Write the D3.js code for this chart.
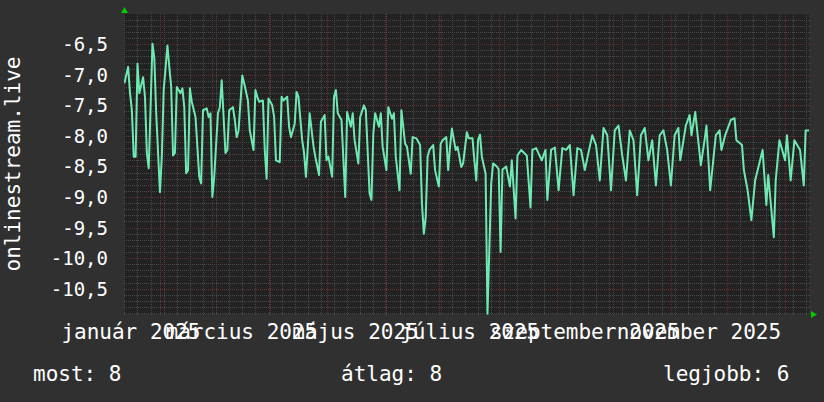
<!DOCTYPE html>
<html>
<head>
<meta charset="utf-8">
<script src="https://cdn.jsdelivr.net/npm/d3@7"></script>
<style>
body { margin: 0; background: #303030; }
</style>
</head>
<body>
<svg width="824" height="402"></svg>
<script>
// adatok: napi érték, a kezdőnaptól számolt napokkal
var startDay = Date.UTC(2025, 0, 13);
var dayOffsets = [
    0,2,3,4,5,6,7,8,10,11,12,13,15,16,17,19,20,21,23,24,25,26,27,28,30,31,32,33,34,35,
    36,38,40,41,42,44,45,46,47,48,50,51,52,54,55,56,58,59,60,61,63,64,66,67,69,70,71,72,74,75,
    76,77,79,80,81,83,84,85,87,88,89,91,92,93,95,96,97,98,99,101,102,104,105,107,108,109,111,112,113,114,
    116,118,119,121,122,123,125,126,128,129,131,132,133,134,136,137,138,140,141,143,144,145,147,148,150,151,153,154,156,158,
    159,160,161,162,163,165,166,168,169,170,172,173,174,175,177,178,180,181,183,184,186,187,188,189,190,191,193,194,196,197,
    199,200,201,202,204,206,207,209,210,212,215,217,218,220,223,225,226,228,230,232,234,236,238,240,242,244,246,248,250,252,
    254,256,258,260,262,264,266,268,270,272,274,276,278,280,282,284,286,288,290,292,294,296,297,300,302,303,305,308,310,311,
    313,316,318,319,321,324,326,327,330,331,333,335,337,339,341,343,344,347,348,350,353,354,356,358,361,363,364,366
];
var values = [
    -7.14,-6.87,-7.30,-7.58,-8.34,-8.34,-6.82,-7.30,-7.04,-7.36,-8.28,-8.53,-6.49,-6.73,-7.63,-8.92,-8.34,-7.25,-6.52,-6.87,-7.20,-8.32,-8.28,-7.20,-7.30,-7.22,-7.53,-8.61,-8.56,-7.22,
    -7.44,-7.69,-8.67,-8.78,-7.58,-7.55,-7.69,-7.63,-9.00,-8.67,-7.63,-7.53,-7.09,-8.28,-8.23,-7.58,-7.53,-7.74,-8.02,-7.91,-7.01,-7.14,-7.42,-7.91,-8.23,-7.25,-7.36,-7.44,-7.42,-8.23,
    -8.70,-7.39,-7.50,-7.69,-8.40,-8.43,-7.36,-7.42,-7.36,-7.85,-8.02,-7.80,-7.28,-7.36,-8.07,-8.28,-8.67,-8.18,-7.63,-8.16,-8.34,-8.64,-7.77,-7.66,-8.40,-8.34,-8.67,-7.36,-7.25,-7.63,
    -7.74,-9.00,-7.61,-7.85,-7.63,-8.07,-8.45,-7.69,-7.50,-7.58,-8.94,-9.05,-7.96,-7.63,-7.85,-7.63,-8.18,-8.56,-7.53,-7.72,-7.63,-8.34,-8.89,-7.58,-8.13,-8.18,-8.62,-8.02,-8.04,-8.15,
    -9.11,-9.60,-9.33,-8.34,-8.23,-8.15,-8.56,-8.83,-8.13,-8.07,-8.02,-8.56,-8.18,-7.88,-8.23,-8.18,-8.51,-8.45,-7.94,-8.04,-8.04,-8.40,-8.73,-8.06,-7.98,-8.34,-8.62,-10.91,-8.78,-8.45,
    -8.50,-8.55,-9.90,-8.55,-8.50,-8.83,-8.40,-9.35,-8.32,-8.23,-8.32,-9.17,-8.23,-8.20,-8.40,-8.23,-9.05,-8.23,-8.19,-8.89,-8.20,-8.23,-8.15,-8.97,-8.20,-8.23,-8.56,-8.27,-7.99,-8.15,
    -8.73,-7.87,-7.99,-8.89,-7.91,-7.83,-8.32,-8.73,-7.91,-8.07,-8.97,-7.99,-7.87,-8.40,-8.07,-8.81,-7.99,-7.91,-8.23,-8.81,-7.99,-7.87,-8.40,-7.83,-7.66,-7.99,-7.61,-8.48,-8.07,-7.83,
    -8.89,-7.99,-7.91,-8.23,-7.99,-7.74,-7.71,-8.07,-8.15,-8.56,-8.89,-9.38,-8.73,-8.48,-8.23,-9.13,-8.64,-9.66,-8.73,-8.07,-8.40,-7.99,-8.73,-8.07,-8.23,-8.81,-7.91,-7.91
];

// tengelyek
var yMajorTicks = [-6.5,-7.0,-7.5,-8.0,-8.5,-9.0,-9.5,-10.0,-10.5];
var monthNames = ["január","február","március","április","május","június",
    "július","augusztus","szeptember","október","november","december"];
var yTitle = "onlinestream.live";

// jelmagyarázat
var legendLabels = ["most", "átlag", "legjobb"];
var legendValues = [8, 8, 6];

var COLOR_BG = "#303030";
var COLOR_CANVAS = "#222222";
var COLOR_LINE = "#6fe9b2";
var COLOR_MINOR = "#484848";
var COLOR_MAJOR = "#663030";
var COLOR_ARROW = "#00cc00";
var FONT = "'DejaVu Sans Mono', monospace";

var svg = d3.select("svg").style("font-family", FONT);
var plotL = 124, plotR = 809, plotT = 14, plotB = 314;

var x = d3.scaleUtc()
    .domain([Date.UTC(2025, 0, 12, 19), Date.UTC(2026, 0, 13, 19)])
    .range([plotL, plotR]);
var y = d3.scaleLinear()
    .domain([-10.915, -6.005])
    .range([plotB, plotT]);

var hu = d3.formatLocale({decimal: ",", thousands: " ", grouping: [3], currency: ["", " Ft"], minus: "-"});
var fmt = hu.format(".1f");

svg.append("rect").attr("width", 824).attr("height", 402).attr("fill", COLOR_BG);
svg.append("rect")
    .attr("x", plotL).attr("y", plotT)
    .attr("width", plotR - plotL).attr("height", plotB - plotT)
    .attr("fill", COLOR_CANVAS);

// rács (pontozott), egy path típusonként
function gridPath(hVals, vVals, color){
    var d = "";
    hVals.forEach(function(v){
        var py = Math.round(y(v)) + 0.5;
        d += "M" + plotL + "," + py + "H" + (plotR + 2);
    });
    vVals.forEach(function(t){
        var px = Math.round(x(t)) + 0.5;
        d += "M" + px + "," + plotT + "V" + (plotB + 2);
    });
    svg.append("path")
        .attr("d", d)
        .attr("fill", "none")
        .attr("stroke", color)
        .attr("stroke-width", 1)
        .attr("stroke-dasharray", "1,1");
}
var minorY = d3.range(-109, -60).map(function(i){ return i / 10; })
    .filter(function(d){ return Math.abs(d * 2 - Math.round(d * 2)) > 1e-6; });
var weeks = d3.utcMonday.range(x.domain()[0], x.domain()[1]);
var months = d3.utcMonth.range(x.domain()[0], x.domain()[1]);
var weeksOnly = weeks.filter(function(w){
    return !months.some(function(m){ return Math.abs(x(m) - x(w)) < 1; });
});
gridPath(minorY, weeksOnly, COLOR_MINOR);
gridPath(yMajorTicks, months, COLOR_MAJOR);

// vonal
svg.append("clipPath").attr("id", "clip").append("rect")
    .attr("x", plotL).attr("y", plotT).attr("width", plotR - plotL).attr("height", plotB - plotT + 1);

var points = dayOffsets.map(function(d, i){
    return {t: new Date(startDay + d * 864e5), v: values[i]};
});
var line = d3.line()
    .x(function(d){ return x(d.t); })
    .y(function(d){ return y(d.v); });
svg.append("path")
    .datum(points)
    .attr("clip-path", "url(#clip)")
    .attr("d", line)
    .attr("fill", "none")
    .attr("stroke", COLOR_LINE)
    .attr("stroke-width", 2)
    .attr("stroke-linejoin", "round");

// nyilak
svg.append("path").attr("d", "M121,13 L128,13 L124.5,7 Z").attr("fill", COLOR_ARROW);
svg.append("path").attr("d", "M811,311 L811,318 L817,314.5 Z").attr("fill", COLOR_ARROW);

// y feliratok
svg.append("g").selectAll("text").data(yMajorTicks).enter().append("text")
    .attr("x", 108)
    .attr("y", function(d){ return y(d) + 7; })
    .attr("text-anchor", "end")
    .attr("fill", "#fff")
    .style("font-size", "19px")
    .text(function(d){ return fmt(d); });

// x feliratok: minden második hónap, a hónap közepére igazítva
var labelMonths = d3.utcMonth.every(2).range(Date.UTC(2025, 0, 1), Date.UTC(2026, 0, 1))
    .filter(function(d){
        var mid = new Date((+d + +d3.utcMonth.offset(d, 1)) / 2);
        return mid >= x.domain()[0] && mid <= x.domain()[1];
    });
svg.append("g").selectAll("text").data(labelMonths).enter().append("text")
    .attr("x", function(d){ return x(new Date((+d + +d3.utcMonth.offset(d, 1)) / 2)); })
    .attr("y", 339)
    .attr("text-anchor", "middle")
    .attr("fill", "#fff")
    .style("font-size", "21px")
    .text(function(d){ return monthNames[d.getUTCMonth()] + " " + d.getUTCFullYear(); });

// y tengely címe
svg.append("text")
    .attr("transform", "translate(20," + ((plotT + plotB) / 2) + ") rotate(-90)")
    .attr("text-anchor", "middle")
    .attr("fill", "#fff")
    .style("font-size", "21px")
    .text(yTitle);

// jelmagyarázat
var legendX = [33, 341, 663];
svg.append("g").selectAll("text").data(legendLabels).enter().append("text")
    .attr("x", function(d, i){ return legendX[i]; })
    .attr("y", 381)
    .attr("fill", "#fff")
    .style("font-size", "21px")
    .text(function(d, i){ return d + ": " + legendValues[i]; });
</script>
</body>
</html>
